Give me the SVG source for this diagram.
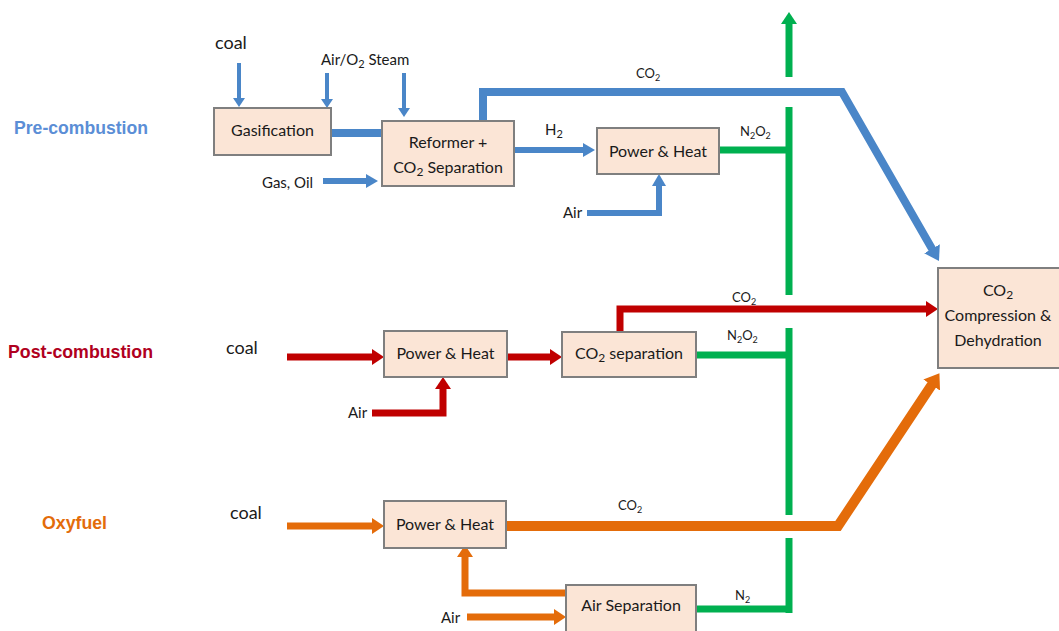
<svg xmlns="http://www.w3.org/2000/svg" width="1059" height="631" viewBox="0 0 1059 631">
<style>
.box{fill:#fbe5d6;stroke:#7f7f7f;stroke-width:2}
.t{font-family:Lato,"Liberation Sans",sans-serif;fill:#1a1a1a}
.lb{font-size:16px;text-anchor:middle}
.sm{font-size:13px}
.ttl{font-family:"Liberation Sans",Arial,sans-serif;font-weight:bold;font-size:18px}
.b{stroke:#4a86c8;fill:none}
.r{stroke:#c00000;fill:none}
.o{stroke:#e46c0a;fill:none}
.g{stroke:#00b050;fill:none;stroke-width:7}
</style>
<defs>
<marker id="mb" markerUnits="userSpaceOnUse" markerWidth="12" markerHeight="14" refX="4" refY="7" orient="auto"><path d="M0,0L12,7L0,14z" fill="#4a86c8"/></marker>
<marker id="mbs" markerUnits="userSpaceOnUse" markerWidth="9" markerHeight="12" refX="1" refY="6" orient="auto"><path d="M0,0L9,6L0,12z" fill="#4a86c8"/></marker>
<marker id="mbl" markerUnits="userSpaceOnUse" markerWidth="14" markerHeight="18" refX="6" refY="9" orient="auto"><path d="M0,0L14,9L0,18z" fill="#4a86c8"/></marker>
<marker id="mr" markerUnits="userSpaceOnUse" markerWidth="12" markerHeight="16" refX="4" refY="8" orient="auto"><path d="M0,0L12,8L0,16z" fill="#c00000"/></marker>
<marker id="mo" markerUnits="userSpaceOnUse" markerWidth="12" markerHeight="16" refX="4" refY="8" orient="auto"><path d="M0,0L12,8L0,16z" fill="#e46c0a"/></marker>
<marker id="mol" markerUnits="userSpaceOnUse" markerWidth="14" markerHeight="20" refX="6" refY="10" orient="auto"><path d="M0,0L14,10L0,20z" fill="#e46c0a"/></marker>
<marker id="mg" markerUnits="userSpaceOnUse" markerWidth="12" markerHeight="16" refX="2" refY="8" orient="auto"><path d="M0,0L12,8L0,16z" fill="#00b050"/></marker>
</defs>
<rect width="1059" height="631" fill="#ffffff"/>

<g id="titles">
<text class="ttl" x="14" y="134" fill="#5b8ed6" textLength="134" lengthAdjust="spacingAndGlyphs">Pre-combustion</text>
<text class="ttl" x="8" y="358" fill="#b00020" textLength="145" lengthAdjust="spacingAndGlyphs">Post-combustion</text>
<text class="ttl" x="42" y="529" fill="#e36c0a" textLength="65" lengthAdjust="spacingAndGlyphs">Oxyfuel</text>
</g>

<g id="connectors">
<path class="g" d="M789,77V22" marker-end="url(#mg)"/>
<path class="g" d="M789,107V295"/>
<path class="g" d="M789,328V515"/>
<path class="g" d="M789,538V613"/>
<path class="g" d="M719,150H792" stroke-width="8"/>
<path class="g" d="M696,355H792" stroke-width="8"/>
<path class="g" d="M696,609H792" stroke-width="8"/>
<path class="b" stroke-width="4" d="M239,63V99" marker-end="url(#mbs)"/>
<path class="b" stroke-width="4" d="M327,73V100" marker-end="url(#mbs)"/>
<path class="b" stroke-width="4" d="M404,73V109" marker-end="url(#mbs)"/>
<path class="b" stroke-width="8" d="M331,133H382"/>
<path class="b" stroke-width="6" d="M323,181H370" marker-end="url(#mb)"/>
<path class="b" stroke-width="6" d="M514,150H587" marker-end="url(#mb)"/>
<path class="b" stroke-width="6" d="M587,213H659V182" marker-end="url(#mb)"/>
<path class="b" stroke-width="8" stroke-linejoin="miter" d="M483,121V92H842L935,254" marker-end="url(#mbl)"/>
<path class="r" stroke-width="7" d="M287,357H376" marker-end="url(#mr)"/>
<path class="r" stroke-width="7" d="M507,357H554" marker-end="url(#mr)"/>
<path class="r" stroke-width="7" d="M372,413H443V385" marker-end="url(#mr)"/>
<path class="r" stroke-width="7" d="M620,332V309H930" marker-end="url(#mr)"/>
<path class="o" stroke-width="7" d="M287,526H376" marker-end="url(#mo)"/>
<path class="o" stroke-width="10" stroke-linejoin="miter" d="M506,526H838L935,380" marker-end="url(#mol)"/>
<path class="o" stroke-width="7" d="M566,593H465V553" marker-end="url(#mo)"/>
<path class="o" stroke-width="7" d="M467,617H558" marker-end="url(#mo)"/>
</g>

<g id="gasification">
<rect class="box" x="214" y="108" width="117" height="47"/>
<text class="t lb" x="272.5" y="136">Gasification</text>
</g>
<g id="reformer">
<rect class="box" x="382" y="121" width="132" height="65"/>
<text class="t lb" x="448" y="148">Reformer +</text>
<text class="t lb" x="448" y="173">CO<tspan font-size="12" dy="3">2</tspan><tspan dy="-3"> Separation</tspan></text>
</g>
<g id="power-heat-pre">
<rect class="box" x="597" y="128" width="122" height="46"/>
<text class="t lb" x="658" y="157">Power &amp; Heat</text>
</g>
<g id="compression">
<rect class="box" x="938" y="268" width="122" height="100"/>
<text class="t lb" x="998" y="296">CO<tspan font-size="12" dy="3">2</tspan></text>
<text class="t lb" x="998" y="321">Compression &amp;</text>
<text class="t lb" x="998" y="346">Dehydration</text>
</g>
<g id="power-heat-post">
<rect class="box" x="384" y="331" width="123" height="46"/>
<text class="t lb" x="445.5" y="359">Power &amp; Heat</text>
</g>
<g id="co2-separation">
<rect class="box" x="562" y="332" width="134" height="45"/>
<text class="t lb" x="629" y="359">CO<tspan font-size="12" dy="3">2</tspan><tspan dy="-3"> separation</tspan></text>
</g>
<g id="power-heat-oxy">
<rect class="box" x="384" y="501" width="122" height="47"/>
<text class="t lb" x="445" y="530">Power &amp; Heat</text>
</g>
<g id="air-separation">
<rect class="box" x="566" y="585" width="130" height="50"/>
<text class="t lb" x="631" y="611">Air Separation</text>
</g>

<g id="labels">
<text class="t" x="215" y="49" font-size="18">coal</text>
<text class="t" x="321" y="65" font-size="15">Air/O<tspan font-size="11" dy="3">2</tspan><tspan dy="-3"> Steam</tspan></text>
<text class="t" x="262" y="188" font-size="15">Gas, Oil</text>
<text class="t" x="545" y="135" font-size="15">H<tspan font-size="11" dy="3">2</tspan></text>
<text class="t sm" x="636" y="78">CO<tspan font-size="9" dy="3">2</tspan></text>
<text class="t sm" x="740" y="136">N<tspan font-size="9" dy="3">2</tspan><tspan dy="-3">O</tspan><tspan font-size="9" dy="3">2</tspan></text>
<text class="t" x="563" y="218" font-size="15">Air</text>
<text class="t" x="226" y="354" font-size="18">coal</text>
<text class="t" x="348" y="418" font-size="15">Air</text>
<text class="t sm" x="732" y="302">CO<tspan font-size="9" dy="3">2</tspan></text>
<text class="t sm" x="727" y="340">N<tspan font-size="9" dy="3">2</tspan><tspan dy="-3">O</tspan><tspan font-size="9" dy="3">2</tspan></text>
<text class="t" x="230" y="519" font-size="18">coal</text>
<text class="t sm" x="618" y="510">CO<tspan font-size="9" dy="3">2</tspan></text>
<text class="t" x="441" y="623" font-size="15">Air</text>
<text class="t sm" x="735" y="600">N<tspan font-size="9" dy="3">2</tspan></text>
</g>
</svg>
